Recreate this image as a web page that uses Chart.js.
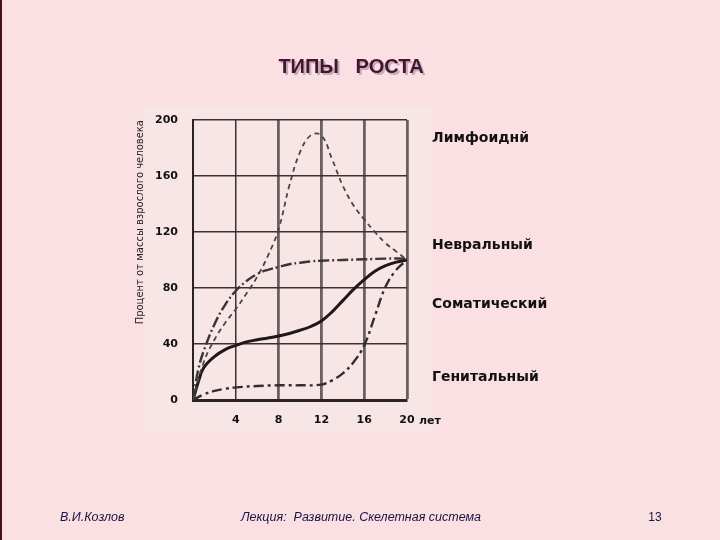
<!DOCTYPE html>
<html>
<head>
<meta charset="utf-8">
<script src="https://cdn.jsdelivr.net/npm/chart.js@4"></script>
<style>
  html, body { margin: 0; padding: 0; background: #fae0e3; }
  canvas { display: block; }
</style>
</head>
<body>
<canvas id="growth-chart" width="720" height="540"></canvas>
<script>
// данные кривых роста (возраст, % от массы взрослого)
var lymphAges   = [0, 1, 2, 3, 4, 5, 6, 7, 8, 9, 10, 11, 12, 13, 14, 15, 16, 17, 18, 19, 20];
var lymphValues = [0, 27, 43, 55, 65, 76, 88, 103, 122, 153, 177, 189, 189, 172, 153, 139, 129, 120, 112, 106, 100];

var neuralAges   = [0, 0.5, 1, 2, 3, 4, 5, 6, 7, 8, 9, 10, 11, 12, 14, 16, 18, 20];
var neuralValues = [0, 22, 35, 54, 68, 78, 85, 90, 93, 95, 97, 98, 99, 99.5, 100, 100.5, 101, 101];

var somaAges   = [0, 0.5, 1, 2, 3, 4, 5, 6, 7, 8, 9, 10, 11, 12, 13, 14, 15, 16, 17, 18, 19, 20];
var somaValues = [0, 13, 23, 31, 36, 39, 41.5, 43, 44.3, 45.7, 47.5, 49.8, 52.5, 56.5, 63, 71, 79, 86, 92, 96, 98.5, 100];

var genitAges   = [0, 1, 2, 3, 4, 6, 8, 10, 12, 13, 14, 15, 16, 17, 18, 19, 20];
var genitValues = [0, 4, 6.5, 8, 9, 10, 10.5, 10.5, 11, 14, 19, 27, 39, 60, 81, 93, 100];

var seriesNames = ['Лимфоиднй', 'Невральный', 'Соматический', 'Генитальный'];
var xTicks = [4, 8, 12, 16, 20];
var yTicks = [0, 40, 80, 120, 160, 200];

var titleText = 'ТИПЫ   РОСТА';
var yAxisTitle = 'Процент от массы взрослого человека';
var footerLeft = 'В.И.Козлов';
var footerMid = 'Лекция:  Развитие. Скелетная система';
var footerRight = '13';

function toPoints(ages, values) {
    return ages.map((a, i) => ({ x: a, y: values[i] }));
}

// подписи, фон и рамка слайда
var slideDecor = {
    id: 'slideDecor',
    beforeDraw(chart) {
        var ctx = chart.ctx;
        ctx.save();
        ctx.fillStyle = '#fae0e3';
        ctx.fillRect(0, 0, 720, 540);
        ctx.fillStyle = '#f8e6e6';
        ctx.fillRect(144, 106, 288, 326);
        ctx.fillStyle = '#4a1020';
        ctx.fillRect(0, 0, 2, 540);
        ctx.restore();
    },
    afterDraw(chart) {
        var ctx = chart.ctx;
        ctx.save();
        // заголовок с тенью
        ctx.font = 'bold 20px "Liberation Sans", Arial, sans-serif';
        ctx.textAlign = 'center';
        ctx.textBaseline = 'middle';
        ctx.fillStyle = '#bdb0b4';
        ctx.fillText(titleText, 353, 69);
        ctx.fillStyle = '#4a1232';
        ctx.fillText(titleText, 351, 67);

        // названия кривых справа
        ctx.font = 'bold 14px "DejaVu Sans", sans-serif';
        ctx.textAlign = 'left';
        ctx.fillStyle = '#111';
        var labelY = [138, 245, 304, 377];
        seriesNames.forEach((name, i) => ctx.fillText(name, 432, labelY[i]));

        // "лет" после 20
        ctx.font = 'bold 11px "DejaVu Sans", sans-serif';
        ctx.fillText('лет', 419, 421);

        // нижний колонтитул
        ctx.font = 'italic 12.5px "Liberation Sans", Arial, sans-serif';
        ctx.fillStyle = '#1a1440';
        ctx.fillText(footerLeft, 60, 518);
        ctx.textAlign = 'center';
        ctx.fillText(footerMid, 361, 518);
        ctx.font = '12px "Liberation Sans", Arial, sans-serif';
        ctx.fillText(footerRight, 655, 518);
        ctx.restore();
    }
};

var tickFont = { family: '"DejaVu Sans", sans-serif', size: 11, weight: 'bold' };

var ctx = document.getElementById('growth-chart').getContext('2d');
var chart = new Chart(ctx, {
    type: 'line',
    data: {
        datasets: [{
            label: seriesNames[0],
            data: toPoints(lymphAges, lymphValues),
            borderColor: '#4a4444',
            borderWidth: 1.8,
            borderDash: [5, 4]
        }, {
            label: seriesNames[1],
            data: toPoints(neuralAges, neuralValues),
            borderColor: '#3a3434',
            borderWidth: 2.4,
            borderDash: [11, 3, 2, 3]
        }, {
            label: seriesNames[2],
            data: toPoints(somaAges, somaValues),
            borderColor: '#1e1818',
            borderWidth: 3
        }, {
            label: seriesNames[3],
            data: toPoints(genitAges, genitValues),
            borderColor: '#332d2d',
            borderWidth: 2.4,
            borderDash: [10, 4, 3, 4]
        }]
    },
    options: {
        responsive: false,
        animation: false,
        devicePixelRatio: 1,
        layout: { padding: { left: 130, right: 313, top: 120, bottom: 110 } },
        elements: {
            point: { radius: 0 },
            line: { tension: 0.4, fill: false }
        },
        plugins: {
            legend: { display: false },
            tooltip: { enabled: false }
        },
        scales: {
            x: {
                type: 'linear',
                min: 0,
                max: 20,
                afterBuildTicks: axis => { axis.ticks = xTicks.map(v => ({ value: v })); },
                afterFit: axis => { axis.height = 30; },
                ticks: {
                    padding: 14,
                    color: '#111',
                    maxRotation: 0,
                    font: tickFont
                },
                grid: {
                    drawTicks: false,
                    color: ctx => ctx.tick && ctx.tick.value === 4 ? '#3a3232' : '#6a6060',
                    lineWidth: ctx => ctx.tick && ctx.tick.value === 4 ? 1.5 : 2.8
                },
                border: { color: '#2a2424', width: 3 }
            },
            y: {
                type: 'linear',
                min: 0,
                max: 200,
                afterBuildTicks: axis => { axis.ticks = yTicks.map(v => ({ value: v })); },
                afterFit: axis => { axis.width = 63; },
                title: {
                    display: true,
                    text: yAxisTitle,
                    align: 'end',
                    color: '#222',
                    padding: { top: 4, bottom: 0 },
                    font: { family: '"DejaVu Sans", sans-serif', size: 10 }
                },
                ticks: {
                    padding: 15,
                    color: '#111',
                    font: tickFont
                },
                grid: {
                    drawTicks: false,
                    color: '#3a3232',
                    lineWidth: 1.6
                },
                border: { color: '#2a2424', width: 2 }
            }
        }
    },
    plugins: [slideDecor]
});
</script>
</body>
</html>
